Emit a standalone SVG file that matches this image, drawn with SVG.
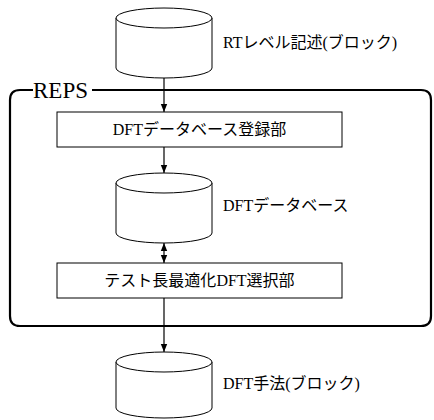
<svg xmlns="http://www.w3.org/2000/svg" width="434" height="420" viewBox="0 0 434 420">
  <style>
    .shape { fill: #fff; stroke: #000; stroke-width: 1; }
    .line { fill: none; stroke: #000; stroke-width: 1.2; }
    .frame { fill: none; stroke: #000; stroke-width: 2.2; }
    .lbl { font-family: "Noto Sans CJK JP", sans-serif; font-size: 16px; fill: #000; }
    .lat { font-family: "Liberation Serif", "Times New Roman", serif; }
    .title { font-family: "Liberation Serif", "Times New Roman", serif; font-size: 23px; fill: #000; }
  </style>
  <defs>
    <marker id="arrow" viewBox="0 0 8 8" refX="8" refY="4" markerWidth="8" markerHeight="8" markerUnits="userSpaceOnUse" orient="auto-start-reverse">
      <path d="M0,0.8 L8,4 L0,7.2 Z" fill="#000"/>
    </marker>
  </defs>

  <!-- REPS enclosing frame -->
  <g id="reps">
    <path class="frame" d="M92,90 H421 Q431,90 431,100 V316 Q431,326 421,326 H20 Q10,326 10,316 V100 Q10,90 20,90 H33"/>
    <text class="title" x="33" y="98">REPS</text>
  </g>

  <!-- connectors -->
  <g id="connectors">
    <line class="line" x1="164" y1="78" x2="164" y2="112" marker-end="url(#arrow)"/>
    <line class="line" x1="164" y1="147" x2="164" y2="173" marker-end="url(#arrow)"/>
    <line class="line" x1="164" y1="243" x2="164" y2="263" marker-start="url(#arrow)" marker-end="url(#arrow)"/>
    <line class="line" x1="164" y1="298" x2="164" y2="352" marker-end="url(#arrow)"/>
  </g>

  <!-- RT-level description store -->
  <g id="rt-level">
    <path class="shape" d="M116,18 V68 A48,10 0 0 0 212,68 V18"/>
    <ellipse class="shape" cx="164" cy="18" rx="48" ry="10"/>
    <text class="lbl" x="223" y="48"><tspan class="lat">RT</tspan>レベル記述<tspan class="lat">(</tspan>ブロック<tspan class="lat">)</tspan></text>
  </g>

  <!-- registration unit -->
  <g id="register">
    <rect class="shape" x="57" y="112" width="285" height="35"/>
    <text class="lbl" x="199.5" y="135" text-anchor="middle"><tspan class="lat">DFT</tspan>データベース登録部</text>
  </g>

  <!-- DFT database -->
  <g id="database">
    <path class="shape" d="M116,183 V233 A48,10 0 0 0 212,233 V183"/>
    <ellipse class="shape" cx="164" cy="183" rx="48" ry="10"/>
    <text class="lbl" x="223" y="211"><tspan class="lat">DFT</tspan>データベース</text>
  </g>

  <!-- selection unit -->
  <g id="select">
    <rect class="shape" x="57" y="263" width="285" height="35"/>
    <text class="lbl" x="199.5" y="286" text-anchor="middle">テスト長最適化<tspan class="lat">DFT</tspan>選択部</text>
  </g>

  <!-- DFT method output -->
  <g id="method">
    <path class="shape" d="M116,362 V408 A48,10 0 0 0 212,408 V362"/>
    <ellipse class="shape" cx="164" cy="362" rx="48" ry="10"/>
    <text class="lbl" x="223" y="389"><tspan class="lat">DFT</tspan>手法<tspan class="lat">(</tspan>ブロック<tspan class="lat">)</tspan></text>
  </g>
</svg>
